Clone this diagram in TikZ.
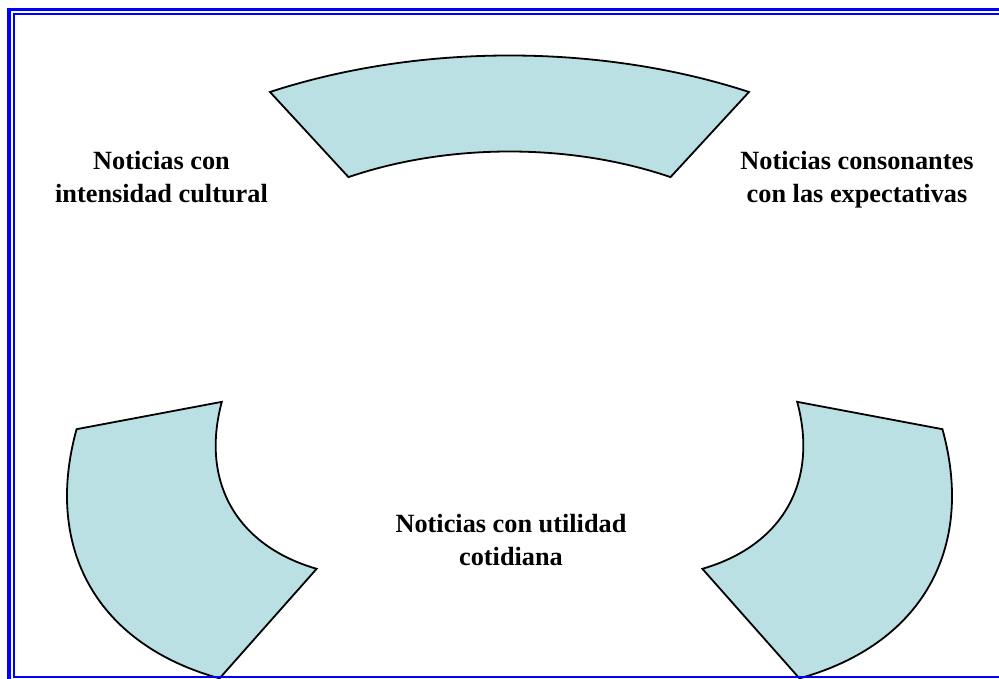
\documentclass[tikz,border=0pt]{standalone}
\usepackage{fontspec}
\setmainfont{Liberation Serif}
\usepackage{tikz}
\definecolor{arcfill}{RGB}{187,224,227}
\begin{document}
\begin{tikzpicture}[x=1pt,y=1pt,
every node/.style={font=\bfseries\fontsize{26.3}{33}\selectfont,align=center,inner sep=0pt},
blockarc/.style={draw=black,line width=1.8pt,fill=arcfill,line join=miter}]
\useasboundingbox (0,0) rectangle (999,679);
\def\cx{509.5}

%top piece of the ring
\begin{scope}[shift={(\cx,332.5)}]
\draw[blockarc] (61:494 and 291) arc[start angle=61,end angle=119,x radius=494,y radius=291]
	-- (119.7:325 and 195) arc[start angle=119.7,end angle=60.3,x radius=325,y radius=195] -- cycle;
\end{scope}

%lower pieces, the right one mirrors the left one
\foreach \r/\s in {209/1,331/-1}{
\begin{scope}[shift={(\cx,328)},rotate=\r,yscale=\s]
\draw[blockarc] (-30:481 and 283) arc[start angle=-30,end angle=31,x radius=481,y radius=283]
	-- (30.7:319 and 190) arc[start angle=30.7,end angle=-30,x radius=319,y radius=190] -- cycle;
\end{scope}
}

\node[anchor=base] (cult) at (161.5,476) {Noticias con\\intensidad cultural};
\node[anchor=base] (expe) at (857,476.5) {Noticias consonantes\\con las expectativas};
\node[anchor=base] (util) at (511,113.5) {Noticias con utilidad\\cotidiana};

%double frame, cut by the page at the right and below
\draw[blue,line width=3.5pt] (9,669.5) rectangle (1012,-23);
\draw[blue,line width=2.5pt] (14,665) rectangle (1006,2);
\end{tikzpicture}
\end{document}
